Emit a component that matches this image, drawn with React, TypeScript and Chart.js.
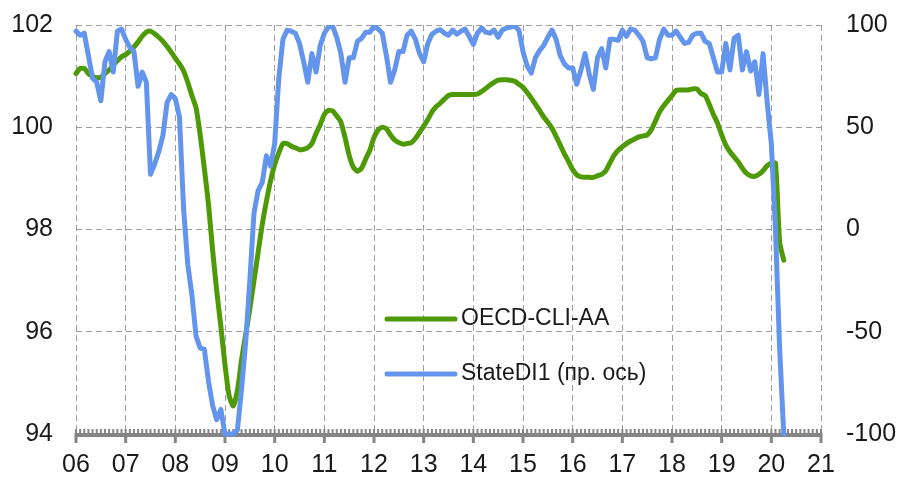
import React, { useEffect, useRef } from 'react';
import { Chart, registerables } from 'chart.js';

Chart.register(...registerables);

// ---- data ----
const startYear = 2006;
const xTickLabels = ['06', '07', '08', '09', '10', '11', '12', '13', '14', '15', '16', '17', '18', '19', '20', '21'];
const leftTicks = [94, 96, 98, 100, 102];
const rightTicks = [-100, -50, 0, 50, 100];
const seriesNames = ['OECD-CLI-AA', 'StateDI1 (пр. ось)'];

// monthly values, Jan 2006 .. Apr 2020
const oecdCliAA = [
  101.05, 101.15, 101.15, 101.05, 101.0, 100.97, 100.98, 101.05, 101.12, 101.22, 101.3, 101.38,
  101.42, 101.49, 101.57, 101.67, 101.78, 101.86, 101.88, 101.83, 101.76, 101.68, 101.58, 101.47,
  101.35, 101.24, 101.1, 100.88, 100.62, 100.38, 99.85, 99.2, 98.5, 97.6, 96.8, 96.1,
  95.35, 94.75, 94.55, 94.85, 95.45, 95.95, 96.45, 97.0, 97.55, 98.1, 98.55, 98.95,
  99.27, 99.5, 99.68, 99.68, 99.63, 99.6, 99.56, 99.57, 99.6, 99.68, 99.88, 100.05,
  100.25, 100.33, 100.32, 100.22, 100.1, 99.8, 99.45, 99.22, 99.14, 99.2, 99.38, 99.55,
  99.8, 99.95, 100.0, 99.97, 99.85, 99.75, 99.7, 99.67, 99.68, 99.7, 99.78, 99.9,
  100.02, 100.15, 100.3, 100.4, 100.47, 100.55, 100.62, 100.64, 100.64, 100.64, 100.64, 100.64,
  100.64, 100.65, 100.7, 100.76, 100.82, 100.88, 100.92, 100.93, 100.93, 100.92, 100.9, 100.84,
  100.78, 100.68, 100.57, 100.45, 100.33, 100.2, 100.1, 99.98, 99.82, 99.65, 99.48, 99.33,
  99.17, 99.07, 99.03, 99.02, 99.02, 99.02, 99.05, 99.08, 99.15, 99.3, 99.45, 99.55,
  99.62, 99.68, 99.73, 99.77, 99.81, 99.83, 99.85, 99.95, 100.12, 100.3, 100.42, 100.52,
  100.62, 100.72, 100.73, 100.73, 100.73, 100.75, 100.75, 100.66, 100.62, 100.45, 100.25, 100.08,
  99.85, 99.65, 99.52, 99.42, 99.32, 99.2, 99.1, 99.05, 99.04, 99.08, 99.15, 99.25,
  99.3, 99.3, 97.75, 97.4,
];

const stateDI1 = [
  97, 95, 96, 85, 74, 72, 63, 82, 87, 77, 97, 98,
  93, 89, 87, 70, 77, 72, 27, 32, 38, 46, 62, 66,
  64, 55, 10, -17, -32, -52, -58, -58.5, -74, -86, -93, -88,
  -100, -100, -100, -98, -78, -55, -25, 8, 19, 23, 36, 31,
  42, 74, 93, 97.5, 97, 96, 91, 82, 72, 86, 77, 90,
  96, 99, 99.4, 94, 86, 72, 84, 84, 92, 93.5, 96.5, 96.5,
  99.5, 98, 96, 85, 72, 78, 87, 87, 95, 97, 93, 86,
  82, 91, 95.5, 97, 97.7, 96, 95, 97.5, 95.5, 97, 98, 94.5,
  90.5, 96, 98.5, 96.5, 96, 97.5, 94, 97.5, 98.5, 99, 99.5, 97.5,
  87, 80, 76.5, 84, 87.5, 90, 94, 97.5, 93, 85, 81, 79,
  79, 71, 78, 86, 76, 68.5, 84, 88.5, 79, 93, 93, 92.5,
  97.5, 94.5, 98, 97.5, 95, 92, 84, 83.5, 84, 93, 98, 95,
  95, 97, 94, 91, 91.5, 95, 96, 96, 92, 91, 84, 77,
  77, 91, 78, 93.5, 95, 78, 87, 77.5, 82, 66, 86, 62,
  42, 0, -58, -100,
];

// ---- styles ----
const GREEN = '#4e9a06';
const BLUE = '#6495ed';
const FONT = '"Liberation Sans", Arial, sans-serif';
const TEXT = '#1a1a1a';
const GRID = '#9e9e9e';
const AXIS = '#858585';

const toPoints = (vals: number[]) => vals.map((v, i) => ({ x: startYear + i / 12, y: v }));

const axisPlugin = {
  id: 'monthAxis',
  beforeDatasetsDraw(chart: any) {
    const { ctx, chartArea } = chart;
    const xs = chart.scales.x;
    const y = chartArea.bottom;
    ctx.save();
    ctx.fillStyle = AXIS;
    ctx.fillRect(xs.left, y - 1, xs.right - xs.left, 4);
    const first = xs.min;
    const last = xs.max;
    const nMonths = Math.round((last - first) * 12);
    for (let m = 0; m <= nMonths; m++) {
      const px = xs.getPixelForValue(first + m / 12);
      ctx.fillRect(px - 1, y - 5, 2, 5);
      if (m % 12 === 0) {
        ctx.fillRect(px - 1.5, y - 1, 3, 10);
      }
    }
    ctx.restore();
  },
};

const legendPlugin = {
  id: 'innerLegend',
  afterDraw(chart: any) {
    const { ctx, chartArea } = chart;
    const x0 = chartArea.left + 311;
    const x1 = x0 + 68;
    const rows = [chartArea.top + 294, chartArea.top + 349];
    ctx.save();
    chart.data.datasets.forEach((ds: any, i: number) => {
      const y = rows[i];
      ctx.strokeStyle = ds.borderColor;
      ctx.lineWidth = 5;
      ctx.lineCap = 'round';
      ctx.beginPath();
      ctx.moveTo(x0, y);
      ctx.lineTo(x1, y);
      ctx.stroke();
      ctx.fillStyle = TEXT;
      ctx.font = `23px ${FONT}`;
      ctx.textAlign = 'left';
      ctx.textBaseline = 'middle';
      ctx.fillText(ds.label, x1 + 6, y);
    });
    ctx.restore();
  },
};

const fitY = (w: number) => (s: any) => {
  s.width = w;
  s.paddingTop = 0;
  s.paddingBottom = 0;
};

export default function App() {
  const ref = useRef<HTMLCanvasElement | null>(null);

  useEffect(() => {
    if (!ref.current) return;
    const chart = new Chart(ref.current, {
      type: 'line',
      data: {
        datasets: [
          {
            label: seriesNames[0],
            data: toPoints(oecdCliAA),
            yAxisID: 'y',
            borderColor: GREEN,
            backgroundColor: GREEN,
            borderWidth: 5,
            pointRadius: 0,
            tension: 0.2,
            borderJoinStyle: 'round',
            borderCapStyle: 'round',
            order: 1,
            clip: { left: 3, top: 0, right: 3, bottom: 3 },
          },
          {
            label: seriesNames[1],
            data: toPoints(stateDI1),
            yAxisID: 'y1',
            borderColor: BLUE,
            backgroundColor: BLUE,
            borderWidth: 5,
            pointRadius: 0,
            tension: 0,
            borderJoinStyle: 'round',
            borderCapStyle: 'round',
            order: 0,
            clip: { left: 3, top: 0, right: 3, bottom: 3 },
          },
        ],
      } as any,
      options: {
        responsive: false,
        animation: false,
        events: [],
        layout: { padding: { top: 25, left: 0, right: 0, bottom: 0 } },
        font: { family: FONT },
        plugins: {
          legend: { display: false },
          tooltip: { enabled: false },
        },
        scales: {
          x: {
            type: 'linear',
            min: startYear,
            max: startYear + xTickLabels.length - 1,
            afterFit: (s: any) => { s.height = 44; s.paddingLeft = 0; s.paddingRight = 0; },
            grid: { color: GRID, lineWidth: 1, drawTicks: false },
            border: { display: false, dash: [6, 4] },
            ticks: {
              stepSize: 1,
              autoSkip: false,
              maxRotation: 0,
              padding: 16,
              color: TEXT,
              font: { family: FONT, size: 25 },
              callback: (v: any) => xTickLabels[Math.round(Number(v) - startYear)] ?? '',
            },
          },
          y: {
            position: 'left',
            min: leftTicks[0],
            max: leftTicks[leftTicks.length - 1],
            afterFit: fitY(76),
            grid: { color: GRID, lineWidth: 1, drawTicks: false },
            border: { display: false, dash: [6, 4] },
            ticks: {
              stepSize: leftTicks[1] - leftTicks[0],
              padding: 23,
              color: TEXT,
              font: { family: FONT, size: 25 },
            },
          },
          y1: {
            position: 'right',
            min: rightTicks[0],
            max: rightTicks[rightTicks.length - 1],
            afterFit: fitY(78),
            grid: { drawOnChartArea: false, drawTicks: false },
            border: { display: false },
            ticks: {
              stepSize: rightTicks[1] - rightTicks[0],
              padding: 25,
              color: TEXT,
              font: { family: FONT, size: 25 },
            },
          },
        },
      } as any,
      plugins: [axisPlugin, legendPlugin],
    });
    return () => chart.destroy();
  }, []);

  return (
    <div style={{ position: 'absolute', left: 0, top: 0, width: 899, height: 478, background: '#fff' }}>
      <canvas ref={ref} width={899} height={478} style={{ width: 899, height: 478, display: 'block' }} />
    </div>
  );
}
